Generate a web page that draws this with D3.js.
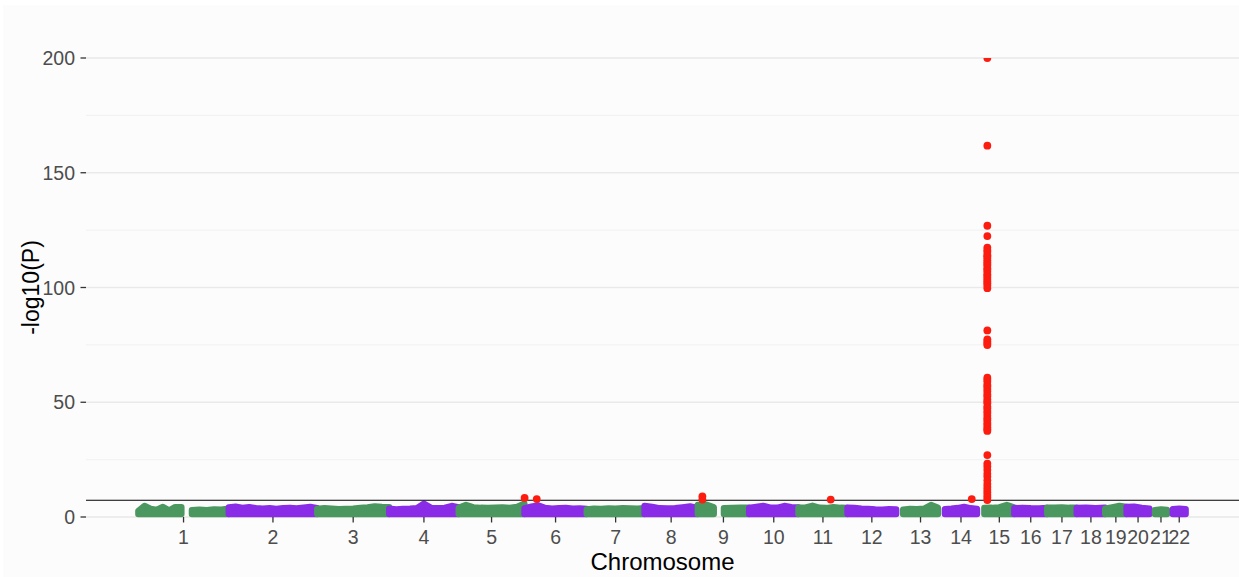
<!DOCTYPE html>
<html>
<head>
<meta charset="utf-8">
<script src="https://cdn.jsdelivr.net/npm/d3@7"></script>
<style>
  body { margin: 0; background: #ffffff; }
  svg { display: block; }
  text { font-family: "Liberation Sans", Arial, Helvetica, sans-serif; }
</style>
</head>
<body>
<svg id="chart" width="1239" height="577"></svg>
<script>
// Chromosomes and their lengths (Mb, GRCh37)
const chromosomes = ["1","2","3","4","5","6","7","8","9","10","11","12","13","14","15","16","17","18","19","20","21","22"];
const chromLengthMb = [249.25, 243.20, 198.02, 191.15, 180.92, 171.12, 159.14, 146.36, 141.21, 135.53, 135.01, 133.85, 115.17, 107.35, 102.53, 90.35, 81.20, 78.08, 59.13, 63.03, 48.13, 51.30];

// Background SNP band: each segment covers [start, end] Mb on a chromosome,
// with the upper edge of the dense -log10(P) cloud sampled evenly along it.
const bandChrom = ["1","1","2","3","4","5","6","7","8","9","9","10","11","12","13","14","15","16","17","18","19","20","21","22"];
const bandStart = [0.7, 148, 0.2, 0.2, 0.2, 0.2, 0.2, 0.2, 0.2, 0.2, 72, 0.2, 0.2, 0.2, 19.1, 19.1, 20.1, 0.1, 0.1, 0.1, 0.2, 0.1, 15.0, 16.0];
const bandEnd   = [119, 249.2, 243.0, 197.9, 191.0, 180.7, 170.9, 159.0, 146.2, 44, 141.0, 135.4, 134.9, 133.8, 115.0, 107.2, 102.4, 90.2, 81.1, 78.0, 59.0, 62.9, 48.0, 51.2];
const bandTop = [
  [2.6, 4.8, 3.5, 3.1, 4.4, 2.8, 4.3, 4.3],
  [3.0, 3.2, 3.0, 3.3, 3.2, 3.6],
  [4.2, 4.5, 4.0, 4.3, 3.8, 3.6, 3.8, 3.5, 3.8, 4.0, 3.7, 4.1, 4.4, 3.9],
  [3.5, 3.8, 3.6, 3.4, 3.5, 3.6, 3.9, 4.2, 4.6, 4.4, 4.3],
  [3.6, 3.3, 3.5, 3.6, 3.8, 5.8, 4.0, 3.8, 4.0, 4.8, 4.2],
  [4.0, 5.2, 4.2, 4.0, 3.9, 4.1, 4.2, 4.0, 4.4, 5.8],
  [3.8, 4.5, 5.0, 3.9, 3.6, 3.8, 3.9, 3.6, 3.7, 3.5],
  [3.3, 3.6, 3.5, 3.7, 3.6, 3.8, 3.7, 3.6, 3.8],
  [4.8, 4.4, 3.8, 3.7, 3.8, 4.2, 4.6, 3.9],
  [5.3, 5.5, 4.2],
  [3.8, 3.9, 4.0, 4.1],
  [4.0, 4.4, 4.8, 4.1, 4.0, 4.8, 4.3, 4.2],
  [4.0, 4.1, 4.9, 4.0, 3.9, 4.3, 4.0, 3.9],
  [4.0, 3.9, 3.6, 3.5, 3.3, 3.2, 3.4, 3.3],
  [3.2, 3.5, 3.4, 3.6, 5.2, 4.0],
  [3.4, 3.6, 3.9, 4.4, 3.8, 3.5],
  [3.9, 4.0, 4.2, 5.2, 4.1],
  [3.8, 4.0, 3.8, 3.7, 3.9],
  [4.0, 4.1, 4.2, 4.0, 4.1],
  [3.9, 4.1, 3.8, 4.0],
  [3.6, 4.2, 4.8, 4.4],
  [4.4, 4.5, 4.0, 3.6],
  [3.0, 3.3, 3.1],
  [3.4, 3.6, 3.4]
];
const bandFloor = 1.3; // lowest -log10(P) kept in the plotted set

// Genome-wide significant SNPs
const hitChrom = ["6","6","9","9","11","14"];
const hitPosMb = [0.4, 33.8, 12.7, 12.7, 88.9, 92.8];
const hitLogP  = [8.3, 7.8, 9.0, 7.6, 7.6, 7.8];
// Chromosome 15 lead locus
const chr15HitPosMb = 28.3;
const chr15HitLogP = [200, 161.8, 126.9, 122.4,
  117.4, 116.3, 115.5, 114.2, 113.6, 112.8, 111.9, 111.0, 110.2, 109.5, 108.4, 107.7, 106.9, 105.8, 105.1, 104.3, 103.4, 102.6, 101.8, 100.9, 99.7,
  81.3, 77.4, 76.5, 75.6, 74.9,
  60.7, 59.8, 58.9, 57.6, 56.9, 55.8, 54.7, 53.4, 52.5, 51.2, 50.3, 49.6, 48.1, 47.4, 46.2, 45.3, 44.1, 43.0, 42.2, 41.0, 40.1, 39.0, 38.2, 37.5,
  27.0, 23.3, 22.0, 20.5, 18.8, 17.6, 16.0, 14.4, 13.1, 11.9, 10.8, 9.6, 8.5, 7.4];

const yTicks = [0, 50, 100, 150, 200];
const yMinorTicks = [25, 75, 125, 175];
const genomeWideLine = 7.3; // -log10(5e-8)

const colorOdd = "#4a975f";
const colorEven = "#8a2be8";
const colorHit = "#fc1d10";

// ---- layout ----
const W = 1239, H = 577;
const panel = { left: 86, right: 1238, top: 58, bottom: 517 };

// cumulative genome offsets
const offsets = {};
let acc = 0;
chromosomes.forEach((c, i) => { offsets[c] = acc; acc += chromLengthMb[i]; });
const cum = (chr, pos) => offsets[chr] + pos;

// x scale: data range expanded by 5% on each side
const dataMin = d3.min(bandStart.map((s, i) => cum(bandChrom[i], s)));
const dataMax = d3.max(bandEnd.map((e, i) => cum(bandChrom[i], e)));
const pad = (dataMax - dataMin) * 0.05;
const x = d3.scaleLinear().domain([dataMin - pad, dataMax + pad]).range([panel.left, panel.right]);
const y = d3.scaleLinear().domain([0, 200]).range([panel.bottom, panel.top]);

const svg = d3.select("#chart");

svg.append("rect").attr("x", 3).attr("y", 5).attr("width", W - 3).attr("height", H - 5).attr("fill", "#fcfcfc");

// gridlines
svg.append("g").selectAll("line").data(yMinorTicks).join("line")
  .attr("x1", panel.left).attr("x2", W).attr("y1", d => y(d)).attr("y2", d => y(d))
  .attr("stroke", "#efefef").attr("stroke-width", 0.8);
svg.append("g").selectAll("line").data(yTicks).join("line")
  .attr("x1", panel.left).attr("x2", W).attr("y1", d => y(d)).attr("y2", d => y(d))
  .attr("stroke", "#e9e9e9").attr("stroke-width", 1.4);

svg.append("clipPath").attr("id", "panelClip").append("rect")
  .attr("x", panel.left).attr("y", panel.top)
  .attr("width", W - panel.left).attr("height", panel.bottom - panel.top + 1);

const plot = svg.append("g").attr("clip-path", "url(#panelClip)");

// background SNP band per segment
const chromColor = c => (chromosomes.indexOf(c) % 2 === 0 ? colorOdd : colorEven);
const area = d3.area().x(d => x(d.cum)).y0(y(bandFloor)).y1(d => y(d.v));
bandTop.forEach((tops, i) => {
  const c = bandChrom[i], s = bandStart[i], e = bandEnd[i];
  const n = tops.length;
  const pts = tops.map((v, k) => ({ cum: cum(c, n === 1 ? s : s + (e - s) * k / (n - 1)), v }));
  plot.append("path").datum(pts)
    .attr("d", area)
    .attr("fill", chromColor(c))
    .attr("stroke", chromColor(c))
    .attr("stroke-width", 6.4)
    .attr("stroke-linejoin", "round");
});

// genome-wide significance line
plot.append("line")
  .attr("x1", panel.left).attr("x2", W)
  .attr("y1", y(genomeWideLine)).attr("y2", y(genomeWideLine))
  .attr("stroke", "#000").attr("stroke-width", 1.1);

// significant SNPs
const hits = hitChrom.map((c, i) => ({ cum: cum(c, hitPosMb[i]), v: hitLogP[i] }))
  .concat(chr15HitLogP.map(v => ({ cum: cum("15", chr15HitPosMb), v })));
plot.append("g").selectAll("circle").data(hits).join("circle")
  .attr("cx", d => x(d.cum)).attr("cy", d => y(d.v)).attr("r", 3.9)
  .attr("fill", colorHit);

// y axis
const yAxis = svg.append("g");
yAxis.selectAll("line").data(yTicks).join("line")
  .attr("x1", panel.left - 5.5).attr("x2", panel.left).attr("y1", d => y(d)).attr("y2", d => y(d))
  .attr("stroke", "#333").attr("stroke-width", 1.3);
yAxis.selectAll("text").data(yTicks).join("text")
  .attr("x", panel.left - 11).attr("y", d => y(d)).attr("dy", "0.36em")
  .attr("text-anchor", "end").attr("font-size", 19.5).attr("fill", "#4d4d4d")
  .text(d => d);

// x axis: ticks at the centre of each chromosome's data span
const centres = chromosomes.map(c => {
  const idx = bandChrom.map((b, i) => b === c ? i : -1).filter(i => i >= 0);
  const lo = d3.min(idx, i => cum(c, bandStart[i]));
  const hi = d3.max(idx, i => cum(c, bandEnd[i]));
  return { c, pos: (lo + hi) / 2 };
});
const xAxis = svg.append("g");
xAxis.selectAll("line").data(centres).join("line")
  .attr("x1", d => x(d.pos)).attr("x2", d => x(d.pos))
  .attr("y1", panel.bottom).attr("y2", panel.bottom + 5.5)
  .attr("stroke", "#333").attr("stroke-width", 1.3);
xAxis.selectAll("text").data(centres).join("text")
  .attr("x", d => x(d.pos)).attr("y", 544)
  .attr("text-anchor", "middle").attr("font-size", 19.5).attr("fill", "#4d4d4d")
  .text(d => d.c);

// axis titles
svg.append("text")
  .attr("x", (panel.left + W) / 2).attr("y", 570)
  .attr("text-anchor", "middle").attr("font-size", 24).attr("fill", "#000")
  .text("Chromosome");
svg.append("text")
  .attr("transform", `translate(39, ${(panel.top + panel.bottom) / 2}) rotate(-90)`)
  .attr("text-anchor", "middle").attr("font-size", 23).attr("fill", "#000")
  .text("-log10(P)");
</script>
</body>
</html>
